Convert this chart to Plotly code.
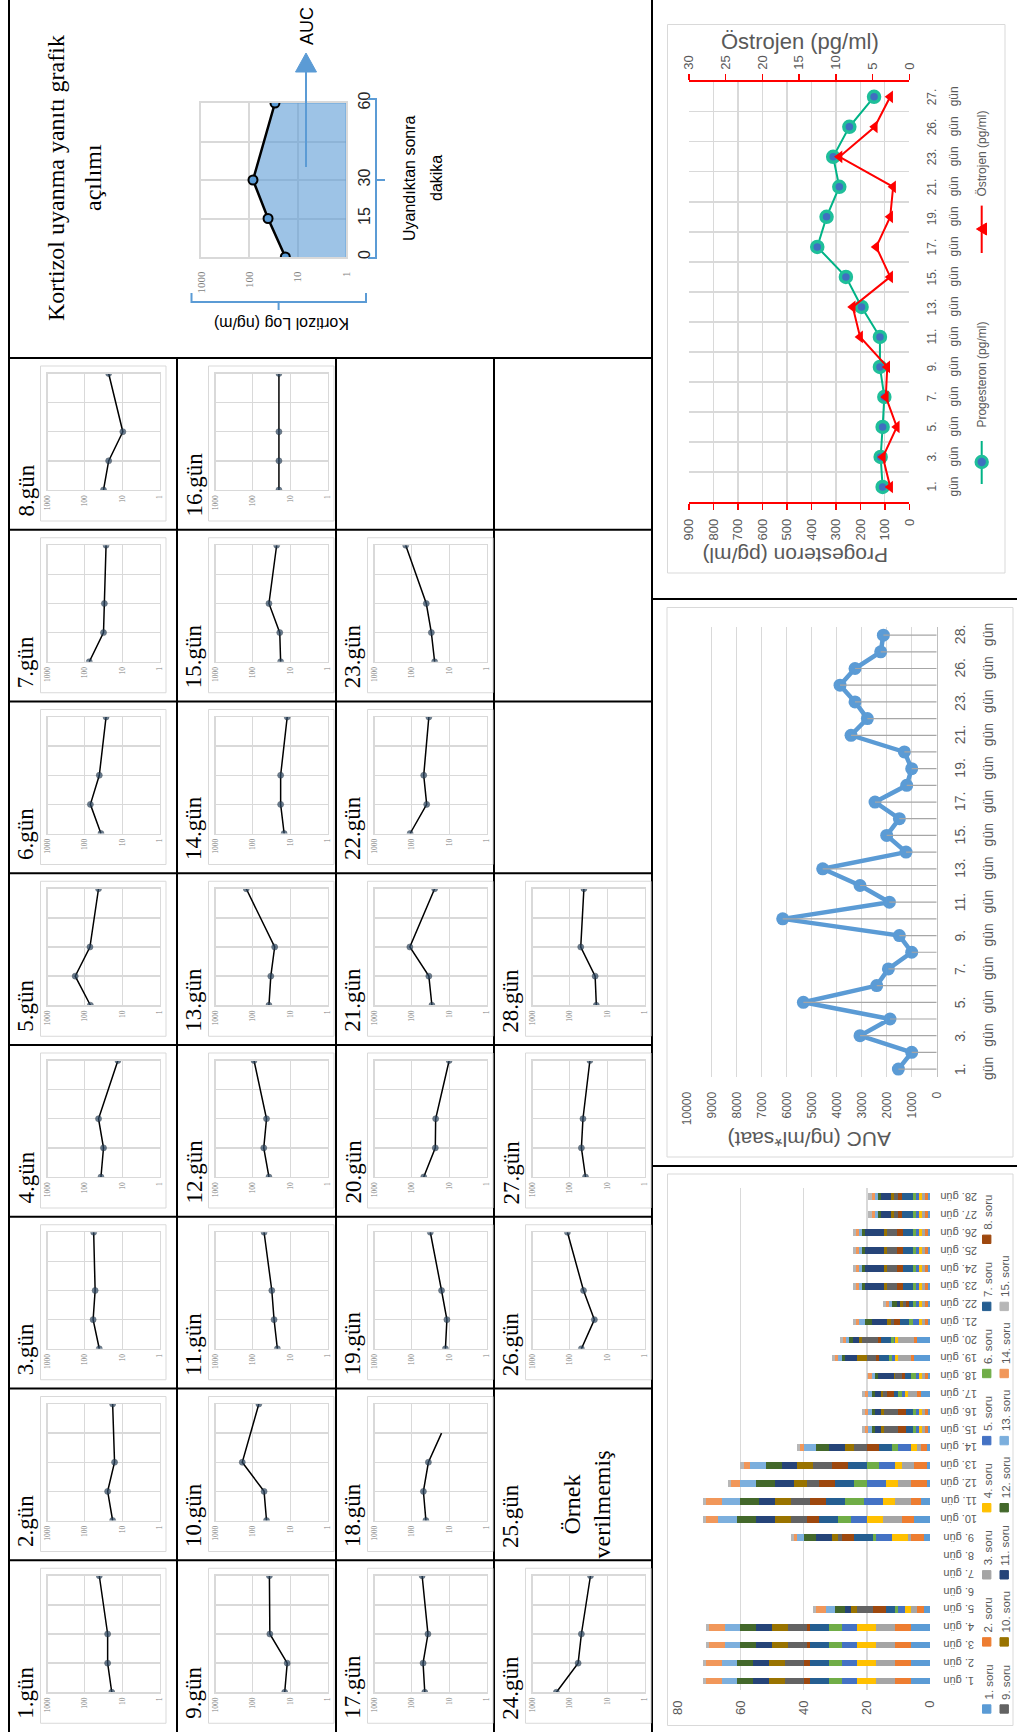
"""Kortizol uyanma yanıtı tablosu, AUC, hormon ve anket grafikleri (döndürülmüş sayfa)."""

from __future__ import annotations

import plotly.graph_objects as go

W, H = 1017, 1732

# ---------------------------------------------------------------- data ----
SAMPLE_MIN = [0, 15, 30, 60]
DAY18_MIN = [0, 15, 30, 45]  # 18. gün: line stops at 45 min, no last sample
EXAMPLE_CORTISOL = [18, 41, 84, 29.5]
AXIS_FLOOR = 1

LOG_TICKS = [1000, 100, 10, 1]
LOG_TICK_TEXT = ["1000", "100", "10", "1"]

# kortizol (ng/ml) at 0, 15, 30, 60 min after waking
CORTISOL = {
    1: [19, 24.5, 24.5, 41],
    2: [18, 24.5, 16, 18],
    3: [41, 60, 53, 58],
    4: [37, 31.6, 43, 13],
    5: [71, 181, 73, 43],
    6: [37, 71, 41, 27],
    7: [76, 31.6, 30, 27],
    8: [31.6, 23, 9.6, 23],
    9: [14, 12, 35, 36],
    10: [43, 50, 192, 69],
    11: [22, 27, 31, 50],
    12: [37, 51, 43, 93],
    13: [37, 33, 26, 150],
    14: [14.5, 18, 18, 12],
    15: [18, 19, 37, 23],
    16: [20, 20, 20, 20],
    17: [45, 50, 37, 53],
    18: [42, 49, 36, 16],
    19: [12.6, 11.5, 16, 32],
    20: [48, 23.5, 23, 10],
    21: [29, 35, 113, 24.5],
    22: [111, 40, 48, 35],
    23: [24.5, 30, 41, 146],
    24: [229, 60, 49, 28],
    26: [49, 22, 43, 116],
    27: [38, 49, 44.5, 29],
    28: [19.5, 21, 51, 42],
}
DAY_COLUMNS = [
    [1, 2, 3, 4, 5, 6, 7, 8],
    [9, 10, 11, 12, 13, 14, 15, 16],
    [17, 18, 19, 20, 21, 22, 23],
    [24, 25, 26, 27, 28],
]
NO_SAMPLE_DAY = 25

HORMONE_DAYS = [1, 3, 5, 7, 9, 11, 13, 15, 17, 19, 21, 23, 26, 27]
PROGESTERON = [109, 117, 109, 102, 120, 120, 195, 259, 376, 338, 286, 311, 245, 144]
OSTROJEN = [2.6, 3.6, 1.7, 3.2, 3.0, 6.7, 7.7, 2.6, 4.5, 2.6, 2.2, 9.5, 4.7, 2.6]
PROG_TICKS = [0, 100, 200, 300, 400, 500, 600, 700, 800, 900]
OSTR_TICKS = [0, 5, 10, 15, 20, 25, 30]

AUC_DAYS = [1, 2, 3, 4, 5, 6, 7, 8, 9, 10, 11, 12, 13, 14, 15, 16, 17, 18,
            19, 20, 21, 22, 23, 24, 26, 27, 28]
AUC = [1533, 1000, 3067, 1867, 5333, 2400, 1933, 1000, 1493, 6160, 1893, 3067,
       4560, 1227, 2000, 1493, 2467, 1200, 1000, 1293, 3427, 2773, 3267, 3867,
       3267, 2240, 2133]
AUC_TICKS = [0, 1000, 2000, 3000, 4000, 5000, 6000, 7000, 8000, 9000, 10000]

SURVEY_DAYS = list(range(1, 29))
QUESTIONS = ["1. soru", "2. soru", "3. soru", "4. soru", "5. soru", "6. soru",
             "7. soru", "8. soru", "9. soru", "10. soru", "11. soru", "12. soru",
             "13. soru", "14. soru", "15. soru"]
QUESTION_COLORS = ["#5B9BD5", "#ED7D31", "#A5A5A5", "#FFC000", "#4472C4",
                   "#70AD47", "#255E91", "#9E480E", "#636363", "#997300",
                   "#264478", "#43682B", "#7CAFDD", "#F1975A", "#B7B7B7"]
SCORES = {
    1: [6, 5, 6, 6, 5, 4, 6, 2, 6, 5, 5, 5, 5, 5, 1],
    2: [6, 5, 6, 6, 5, 4, 6, 2, 6, 5, 5, 5, 5, 5, 1],
    3: [6, 5, 6, 6, 5, 4, 6, 1, 6, 5, 5, 5, 5, 5, 1],
    4: [6, 5, 6, 6, 5, 4, 6, 1, 6, 5, 5, 5, 5, 5, 1],
    5: [2, 2, 2, 2, 2, 1, 3, 4, 5, 2, 2, 3, 3, 3, 1],
    6: [0, 0, 0, 0, 0, 0, 0, 0, 0, 0, 0, 0, 0, 0, 0],
    7: [0, 0, 0, 0, 0, 0, 0, 0, 0, 0, 0, 0, 0, 0, 0],
    8: [0, 0, 0, 0, 0, 0, 0, 0, 0, 0, 0, 0, 0, 0, 0],
    9: [2, 4, 1, 5, 5, 1, 6, 4, 1, 2, 5, 4, 2, 1, 1],
    10: [5, 4, 6, 5, 5, 4, 6, 4, 5, 5, 6, 6, 6, 4, 1],
    11: [3, 3, 5, 4, 6, 6, 6, 5, 6, 5, 5, 6, 6, 5, 1],
    12: [1, 5, 4, 4, 6, 4, 6, 5, 4, 4, 6, 6, 5, 3, 1],
    13: [1, 4, 4, 2, 5, 4, 6, 5, 6, 5, 5, 5, 5, 2, 1],
    14: [1, 2, 1, 2, 4, 2, 4, 4, 4, 3, 5, 4, 4, 1, 1],
    15: [0.5, 1, 1, 1, 1, 1, 2, 2.5, 4.5, 1, 2, 1, 1, 1, 1],
    16: [0.5, 1, 1, 1, 1, 1, 2, 2.5, 4.5, 1, 2, 1, 1, 1, 1],
    17: [3, 1, 3, 1, 1, 1, 1.5, 2, 1.5, 0.5, 2, 1, 1, 1, 1],
    18: [0.5, 1, 1, 1, 1, 1.5, 2, 1, 2, 0.5, 5, 1, 1, 1, 0.5],
    19: [5, 1, 4, 1, 1, 1, 3, 1, 3, 3, 4, 1, 1, 1, 1],
    20: [4, 1, 5, 1, 0.5, 1, 3, 1, 5, 1, 2, 1, 1, 1, 1],
    21: [0.5, 1, 1, 1, 2, 1, 3, 2, 1, 1, 5, 2, 2, 1, 1],
    22: [0.5, 1, 1, 1, 1, 1, 1, 1, 1, 1, 1, 1.5, 1, 1, 1],
    23: [0.5, 1, 1, 1, 1, 1, 3, 2, 3, 1, 6, 1, 1, 1, 1],
    24: [0.5, 1, 1, 1, 1, 1, 3, 2, 3, 1, 6, 1, 1, 1, 1],
    25: [0.5, 1, 1, 1, 1, 1, 3, 2, 3, 1, 6, 1, 1, 1, 1],
    26: [0.5, 1, 1, 1, 1, 1, 3, 2, 3, 1, 6, 1, 1, 1, 1],
    27: [0.5, 1, 1, 1, 1, 1, 3.5, 1, 1.5, 1, 3, 1, 1, 1, 1],
    28: [0.5, 1, 1, 1, 1, 1, 3.5, 1, 1.5, 1, 3, 1, 1, 1, 1],
}
SCORE_TICKS = [0, 20, 40, 60, 80]

# -------------------------------------------------------------- styling ---
SANS = "Liberation Sans"
SERIF = "Liberation Serif"
GRAY = "#595959"
GRID = "#D9D9D9"
BLUE = "#5B9BD5"

BAND_X = [9, 177, 336, 494, 652]
ROW_TOP = 358
ROW_H = 171.75


def px(x):
    return x / W


def py(y):
    return 1 - y / H


def day_name(d):
    return f"{d}. gün"


fig = go.Figure()
shapes: list[dict] = []
notes: list[dict] = []
axis_count = 0


def add_axes(x0, x1, y0, y1, xaxis, yaxis):
    """Register an x/y pair over a pixel box, return the trace axis ids."""
    global axis_count
    axis_count += 1
    sfx = "" if axis_count == 1 else str(axis_count)
    xid, yid = f"x{sfx}", f"y{sfx}"
    fig.update_layout({
        f"xaxis{sfx}": dict(domain=[px(x0), px(x1)], anchor=yid, automargin=False,
                            fixedrange=True, **xaxis),
        f"yaxis{sfx}": dict(domain=[py(y1), py(y0)], anchor=xid, automargin=False,
                            fixedrange=True, **yaxis),
    })
    return xid, yid


def line(x0, y0, x1, y1, color="black", width=2):
    shapes.append(dict(type="line", xref="paper", yref="paper", x0=px(x0), y0=py(y0),
                       x1=px(x1), y1=py(y1), line=dict(color=color, width=width)))


def rect(x0, y0, x1, y1, color=GRID, width=1, fill=None):
    shapes.append(dict(type="rect", xref="paper", yref="paper", x0=px(x0), y0=py(y0),
                       x1=px(x1), y1=py(y1), fillcolor=fill,
                       line=dict(color=color, width=width)))


def path(points, color=BLUE, width=2, fill=None, close=False):
    d = " ".join(f"{'M' if i == 0 else 'L'} {px(x)},{py(y)}" for i, (x, y) in enumerate(points))
    shapes.append(dict(type="path", xref="paper", yref="paper", path=d + (" Z" if close else ""),
                       fillcolor=fill, line=dict(color=color, width=width)))


def note(text, x, y, size, angle=-90, family=SANS, color="black",
         xanchor="center", yanchor="middle", yref=None):
    notes.append(dict(text=text, x=px(x), xref="paper",
                      y=y if yref else py(y), yref=yref or "paper",
                      textangle=angle, showarrow=False, xanchor=xanchor, yanchor=yanchor,
                      font=dict(family=family, size=size, color=color)))


# ------------------------------------------------------------- table ------
line(BAND_X[0], 0, BAND_X[0], H)
line(BAND_X[-1], 0, BAND_X[-1], H)
for bx in BAND_X[1:-1]:
    line(bx, ROW_TOP, bx, H)
for r in range(8):
    line(BAND_X[0], ROW_TOP + ROW_H * r, BAND_X[-1], ROW_TOP + ROW_H * r)

# header cell: explanation of the cortisol awakening response chart
note("Kortizol uyanma yanıtı grafik", 56, 178, 24, family=SERIF)
note("açılımı", 93, 178, 24, family=SERIF)

xid, yid = add_axes(
    201, 346, 103, 257,
    dict(type="log", range=[3, 0], tickvals=LOG_TICKS, ticktext=LOG_TICK_TEXT,
         tickangle=-90, ticklabelstandoff=8, ticks="",
         tickfont=dict(family=SERIF, size=11, color="#7F7F7F"),
         showgrid=True, gridcolor=GRID, gridwidth=2, zeroline=False,
         showline=True, mirror=True, linecolor=GRID, linewidth=2),
    dict(range=[0, 60], tickvals=[0, 15, 30, 45, 60], ticktext=["0", "15", "30", "", "60"],
         side="right", tickangle=-90, ticklabelstandoff=3, ticks="",
         tickfont=dict(family=SANS, size=16, color="#262626"),
         showgrid=True, gridcolor=GRID, gridwidth=2, zeroline=False,
         showline=True, mirror=True, linecolor=GRID, linewidth=2),
)
fig.add_trace(go.Scatter(
    x=EXAMPLE_CORTISOL + [AXIS_FLOOR, AXIS_FLOOR], y=SAMPLE_MIN + [SAMPLE_MIN[-1], SAMPLE_MIN[0]],
    xaxis=xid, yaxis=yid, fill="toself", fillcolor="rgba(91,155,213,0.6)",
    mode="lines", line=dict(width=1, color="rgba(91,155,213,0.8)"),
))
fig.add_trace(go.Scatter(
    x=EXAMPLE_CORTISOL, y=SAMPLE_MIN, xaxis=xid, yaxis=yid, mode="lines+markers",
    line=dict(color="black", width=2.5),
    marker=dict(size=9, color=BLUE, line=dict(color="black", width=2)),
))

# AUC arrow, brackets and their captions
line(306, 167, 306, 70, color=BLUE, width=2)
path([(295.5, 72), (316.5, 72), (306, 53)], fill=BLUE, width=1, close=True)
note("AUC", 307, 26, 18)
path([(368, 99), (376, 99), (376, 258), (368, 258)])
line(376, 180, 385, 180, color=BLUE)
note("Uyandıktan sonra", 409, 178, 16)
note("dakika", 436, 178, 16)
path([(191.5, 293), (191.5, 302), (366, 302), (366, 293)])
line(278.6, 302, 278.6, 310, color=BLUE)
note("Kortizol Log (ng/m)", 282, 323, 16, angle=180)

# one small log chart per day
small_x = dict(type="log", range=[3, 0], tickvals=LOG_TICKS, ticktext=LOG_TICK_TEXT,
               tickangle=-90, ticklabelstandoff=1, ticks="",
               tickfont=dict(family=SERIF, size=7.5, color="#7F7F7F"),
               showgrid=True, gridcolor=GRID, gridwidth=1.3, zeroline=False,
               showline=True, mirror=True, linecolor=GRID, linewidth=1.3)
small_y = dict(range=[0, 60], tickvals=[0, 15, 30, 45, 60], showticklabels=False, ticks="",
               showgrid=True, gridcolor=GRID, gridwidth=1.3, zeroline=False,
               showline=True, mirror=True, linecolor=GRID, linewidth=1.3)

for col, days in enumerate(DAY_COLUMNS):
    bx = BAND_X[col]
    for k, day in enumerate(days):
        top = ROW_TOP + ROW_H * (7 - k)
        note(f"{day}.gün", bx + 16.5, top + 161, 23, family=SERIF, yanchor="bottom")
        if day == NO_SAMPLE_DAY:
            note("Örnek", bx + 77, top + 116, 24, family=SERIF)
            note("verilmemiş", bx + 107, top + 116, 24, family=SERIF)
            continue
        rect(bx + 31.5, top + 8, bx + 157, top + 163)
        xid, yid = add_axes(bx + 38.5, bx + 150.5, top + 15.5, top + 132, small_x, small_y)
        last = 0 if day == 18 else 6
        fig.add_trace(go.Scatter(
            x=CORTISOL[day], y=DAY18_MIN if day == 18 else SAMPLE_MIN,
            xaxis=xid, yaxis=yid, mode="lines+markers",
            line=dict(color="black", width=1.5),
            marker=dict(size=[6, 6, 6, last], color="#2F4A66",
                        line=dict(color="#1A2633", width=0.6)),
        ))

# --------------------------------------------------- right-hand panels ----
line(BAND_X[-1], 599, W, 599)
line(BAND_X[-1], 1166, W, 1166)

# progesteron / östrojen
rect(667.5, 24.5, 1005, 573)
red_axis = dict(showline=True, linecolor="#FF0000", linewidth=1.5, ticks="outside",
                tickcolor="#FF0000", ticklen=6, tickwidth=1.5, tickangle=-90,
                tickfont=dict(family=SANS, size=13, color=GRAY), zeroline=False)
xid, yid = add_axes(
    689, 909.3, 81.8, 502,
    dict(range=[900, 0], tickvals=PROG_TICKS, ticklabelstandoff=4,
         showgrid=True, gridcolor=GRID, gridwidth=1.3, **red_axis),
    dict(type="category", range=[-0.5, len(HORMONE_DAYS) - 0.5], showticklabels=False,
         ticks="", tickson="boundaries", showgrid=True, gridcolor=GRID, gridwidth=1.3,
         zeroline=False, showline=False),
)
top_id = "x" + str(axis_count + 100)
fig.update_layout({"xaxis" + top_id[1:]: dict(
    overlaying=xid, anchor=yid, side="top", range=[30, 0], tickvals=OSTR_TICKS,
    ticklabelstandoff=2, showgrid=False, automargin=False, fixedrange=True, **red_axis)})
hormone_cats = [day_name(d) for d in HORMONE_DAYS]
fig.add_trace(go.Scatter(
    x=PROGESTERON, y=hormone_cats, xaxis=xid, yaxis=yid, mode="lines+markers",
    line=dict(color="#00B386", width=2),
    marker=dict(size=11, color="#3F6FC0", line=dict(color="#1FBF9A", width=3.5)),
))
fig.add_trace(go.Scatter(
    x=OSTROJEN, y=hormone_cats, xaxis=top_id, yaxis=yid, mode="lines+markers",
    line=dict(color="#FF0000", width=2),
    marker=dict(symbol="triangle-left", size=11, color="#FF0000"),
))
for i, d in enumerate(HORMONE_DAYS):
    note(f"{d}.", 931.5, i, 12, color=GRAY, yref=yid)
    note("gün", 953.5, i, 12, color=GRAY, yref=yid)
note("Östrojen (pg/ml)", 800, 41.5, 22, angle=0, color=GRAY)
note("Progesteron (pg/ml)", 795, 555.5, 21, angle=180, color=GRAY)
line(981.7, 441, 981.7, 484, color="#00B386", width=2)
shapes.append(dict(type="circle", xref="paper", yref="paper", x0=px(976), x1=px(987.4),
                   y0=py(467.7), y1=py(456.3), fillcolor="#3F6FC0",
                   line=dict(color="#1FBF9A", width=3)))
note("Progesteron (pg/ml)", 982, 374.6, 12, color=GRAY)
line(981.7, 205.6, 981.7, 253, color="#FF0000", width=2)
path([(986.5, 223), (986.5, 235), (976.5, 229)], color="#FF0000", fill="#FF0000", width=1,
     close=True)
note("Östrojen (pg/ml)", 982, 153.6, 12, color=GRAY)

# AUC per day
rect(667, 607.5, 1013, 1157)
xid, yid = add_axes(
    686.7, 936.7, 626.8, 1077.4,
    dict(range=[10000, 0], tickvals=AUC_TICKS, tickformat="d", tickangle=-90,
         ticklabelstandoff=11, ticks="", tickfont=dict(family=SANS, size=12, color=GRAY),
         showgrid=True, gridcolor=GRID, gridwidth=1.3, zeroline=False, showline=False),
    dict(type="category", range=[-0.5, len(AUC_DAYS) - 0.5], side="right",
         showticklabels=False, ticks="", showgrid=False, zeroline=False,
         showline=True, linecolor="#BFBFBF", linewidth=1.3),
)
auc_cats = [day_name(d) for d in AUC_DAYS]
fig.add_trace(go.Scatter(
    x=AUC, y=auc_cats, xaxis=xid, yaxis=yid, mode="lines+markers",
    line=dict(color=BLUE, width=4.5), marker=dict(size=13, color=BLUE),
))
drop_x, drop_y = [], []
for v, c in zip(AUC, auc_cats):
    drop_x += [v, 0, None]
    drop_y += [c, c, None]
fig.add_trace(go.Scatter(x=drop_x, y=drop_y, xaxis=xid, yaxis=yid, mode="lines",
                         line=dict(color="#A6A6A6", width=1.2)))
for i, d in enumerate(AUC_DAYS):
    if i % 2 == 0:
        note(f"{d}.", 960, i, 14, color=GRAY, yref=yid)
        note("gün", 988, i, 14, color=GRAY, yref=yid)
note("AUC (ng/ml*saat)", 810, 1140, 21, angle=180, color=GRAY)

# questionnaire scores, stacked
rect(667.5, 1174, 1013, 1725.5)
xid, yid = add_axes(
    677.3, 930, 1187.5, 1690,
    dict(range=[80, 0], tickvals=SCORE_TICKS, tickangle=-90, ticklabelstandoff=7,
         ticks="", tickfont=dict(family=SANS, size=13, color=GRAY),
         showgrid=True, gridcolor=GRID, gridwidth=1.5, zeroline=False, showline=False),
    dict(type="category", range=[-0.5, len(SURVEY_DAYS) - 0.5], showticklabels=False,
         ticks="", showgrid=False, zeroline=False, showline=False),
)
survey_cats = [day_name(d) for d in SURVEY_DAYS]
for q, (name, color) in enumerate(zip(QUESTIONS, QUESTION_COLORS)):
    fig.add_trace(go.Bar(
        x=[SCORES[d][q] for d in SURVEY_DAYS], y=survey_cats, orientation="h",
        name=name, marker=dict(color=color, line=dict(width=0)), xaxis=xid, yaxis=yid,
    ))
for i, c in enumerate(survey_cats):
    note(c, 959, i, 11, angle=180, color=GRAY, yref=yid)
for i, (name, color) in enumerate(zip(QUESTIONS, QUESTION_COLORS)):
    c, r = divmod(i, 8)
    cx, cy = 986.7 + 17.5 * c, 1709 - 67.1 * r
    rect(cx - 4.2, cy - 4.2, cx + 4.2, cy + 4.2, color=color, fill=color)
    note(name, cx + 1.3, cy - 7, 11.5, color=GRAY, yanchor="bottom")

fig.update_layout(
    template="none",
    width=W,
    height=H,
    margin=dict(l=0, r=0, t=0, b=0, pad=0),
    paper_bgcolor="white",
    plot_bgcolor="rgba(0,0,0,0)",
    showlegend=False,
    hovermode=False,
    barmode="stack",
    bargap=0.63,
    font=dict(family=SANS, color=GRAY),
    shapes=shapes,
    annotations=notes,
)

fig.write_html(
    "out.html",
    config={"displayModeBar": False, "staticPlot": True},
    post_script="document.body.style.margin='0';",
)
